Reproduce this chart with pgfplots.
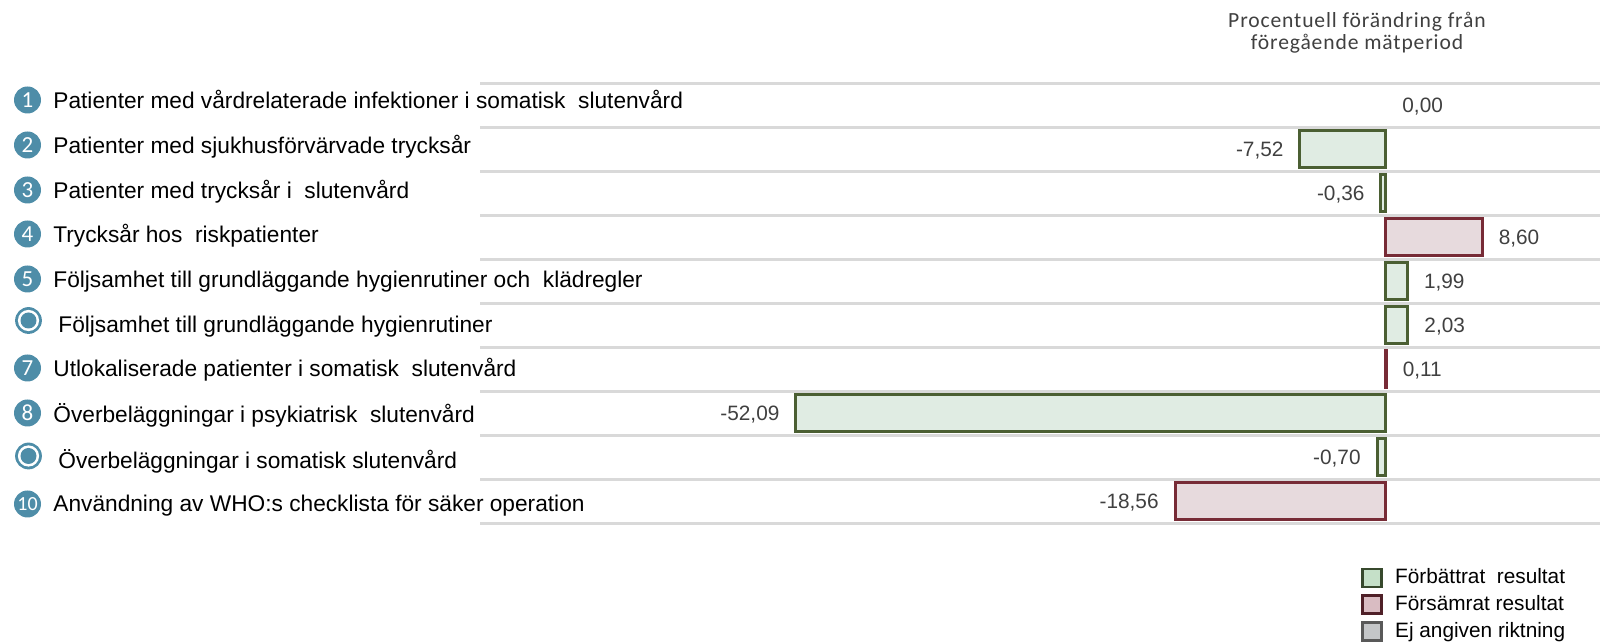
\documentclass[border=0pt]{standalone}
\usepackage{fontspec}
\setmainfont{Liberation Sans}
\newfontfamily\carlito{Carlito}
\newfontfamily\carlitoS[LetterSpace=4]{Carlito}
\usepackage{pgfplots}
\pgfplotsset{compat=1.18}
\definecolor{gline}{HTML}{D9D9D9}
\definecolor{gdraw}{HTML}{4B5F33}
\definecolor{gfill}{HTML}{E0ECE3}
\definecolor{rdraw}{HTML}{772B36}
\definecolor{rfill}{HTML}{E7DADD}
\definecolor{teal1}{HTML}{4E8DA8}
\definecolor{vtext}{HTML}{404040}
\definecolor{lgd}{HTML}{37492D}
\definecolor{lgf}{HTML}{C5E0C8}
\definecolor{lrd}{HTML}{4F2028}
\definecolor{lrf}{HTML}{D9BCC2}
\definecolor{lkd}{HTML}{595959}
\definecolor{lkf}{HTML}{C4C6C8}
\newcommand{\numc}[4][11.5]{\node[circle,fill=teal1,minimum size=13.5pt,inner sep=0pt,text=white,font=\carlito\fontsize{#1}{12}\selectfont] at (#2*0.5pt,{(642-#3)*0.5pt}) {#4};}
\newcommand{\ringc}[2]{\fill[teal1] (#1*0.5pt,{(642-#2)*0.5pt}) circle (6.7pt);\fill[white] (#1*0.5pt,{(642-#2)*0.5pt}) circle (5.3pt);\fill[teal1] (#1*0.5pt,{(642-#2)*0.5pt}) circle (4pt);}
\newcommand{\lab}[3]{\node[anchor=west,inner sep=0pt,text=black,font=\fontsize{11.35}{13}\selectfont] at (#1*0.5pt,{(642-#2-2.5)*0.5pt}) {\strut #3};}
\pgfplotsset{
 lw/.style={nodes near coords style={anchor=west}},
 le/.style={nodes near coords style={anchor=east}},
}
\begin{document}
\begin{tikzpicture}
\path[use as bounding box] (0,0) rectangle (800pt,321pt);
\begin{axis}[
  at={(240pt,59.5pt)},anchor=south west,
  width=560pt,height=220pt,scale only axis,
  xmin=-80.02,xmax=19.01,ymin=0.5,ymax=10.5,y dir=reverse,
  axis line style={draw=none},tick style={draw=none},
  xtick=\empty,ytick={0.5,1.5,...,10.5},yticklabels={},
  ymajorgrids,major grid style={gline,line width=1.5pt},
  xbar,bar shift=0pt,bar width=18.2pt,clip=false,
  point meta=explicit symbolic,
  nodes near coords={\pgfplotspointmeta},
  every node near coord/.append style={text=vtext,font=\fontsize{10.4}{12}\selectfont,inner xsep=7.5pt,inner ysep=0pt,yshift=-0.9pt},
  legend cell align=left,
  legend style={at={(axis cs:-2.12,11.44)},anchor=north west,draw=none,fill=none,
    font=\fontsize{10.4}{12}\selectfont,inner sep=0pt,row sep=0.4pt},
  legend image code/.code={\draw[#1,line width=1.25pt] (0pt,-4.5pt) rectangle (9.5pt,4.5pt);},
]
\addplot[forget plot,draw=none,fill=none,lw,nodes near coords style={xshift=1pt}] table[x=v,y=r,meta=t] {
v r t
0 1 0,00
};
\addplot[forget plot,draw=gdraw,fill=gfill,line width=1.5pt,le] table[x=v,y=r,meta=t] {
v r t
-7.52 2 -7,52
-0.36 3 -0,36
-52.09 8 -52,09
-0.70 9 -0,70
};
\addplot[forget plot,draw=gdraw,fill=gfill,line width=1.5pt,lw] table[x=v,y=r,meta=t] {
v r t
1.99 5 1,99
2.03 6 2,03
};
\addplot[forget plot,draw=rdraw,fill=rfill,line width=1.5pt,lw] table[x=v,y=r,meta=t] {
v r t
8.60 4 8,60
0.11 7 0,11
};
\addplot[forget plot,draw=rdraw,fill=rfill,line width=1.5pt,le] table[x=v,y=r,meta=t] {
v r t
-18.56 10 -18,56
};
\addlegendimage{draw=lgd,fill=lgf}
\addlegendentry{\hspace*{4.1pt}Förbättrat\ \ resultat}
\addlegendimage{draw=lrd,fill=lrf}
\addlegendentry{\hspace*{4.1pt}Försämrat\ resultat}
\addlegendimage{draw=lkd,fill=lkf}
\addlegendentry{\hspace*{4.1pt}Ej angiven riktning}
\end{axis}
\node[align=center,inner sep=0pt,text=vtext,font=\carlitoS\fontsize{10.8}{11.2}\selectfont] at (678.5pt,304.7pt) {Procentuell förändring från\\föregående mätperiod};
\numc{27.5}{100}{1}\lab{53}{101}{Patienter med vårdrelaterade infektioner i somatisk\ \ slutenvård}
\numc{27.5}{145}{2}\lab{53}{146}{Patienter med sjukhusförvärvade trycksår}
\numc{27.5}{190}{3}\lab{53}{191}{Patienter med trycksår i\ \ slutenvård}
\numc{27.5}{234}{4}\lab{53}{235}{Trycksår hos\ \ riskpatienter}
\numc{27.5}{279}{5}\lab{53}{280}{Följsamhet till grundläggande hygienrutiner och\ \ klädregler}
\ringc{28.5}{320.5}\lab{58}{325}{Följsamhet till grundläggande hygienrutiner}
\numc{27.5}{368}{7}\lab{53}{369}{Utlokaliserade patienter i somatisk\ \ slutenvård}
\numc{27.5}{413}{8}\lab{53}{414}{Överbeläggningar i psykiatrisk\ \ slutenvård}
\ringc{28.5}{456}\lab{58}{460}{Överbeläggningar i somatisk slutenvård}
\numc[10]{27.5}{504}{10}\lab{53}{504}{Användning av WHO:s checklista för säker operation}
\end{tikzpicture}
\end{document}
